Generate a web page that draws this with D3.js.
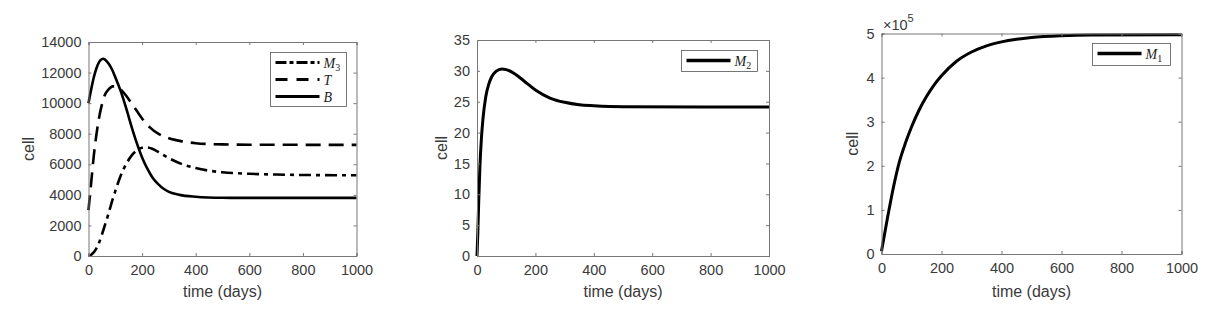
<!DOCTYPE html>
<html>
<head>
<meta charset="utf-8">
<script src="https://cdn.jsdelivr.net/npm/d3@7"></script>
<style>
  body { margin: 0; background: #fff; }
  svg { display: block; }
  .tick text { font-family: "Liberation Sans", Arial, sans-serif; font-size: 14.5px; fill: #3a3a3a; }
  .axlabel { font-family: "Liberation Sans", Arial, sans-serif; font-size: 16px; fill: #3a3a3a; }
  .legtext { font-family: "Liberation Serif", "DejaVu Serif", serif; font-style: italic; font-size: 14px; fill: #222; }
</style>
</head>
<body>
<div id="chart"></div>
<script>
// values
var tB = [0, 10, 20, 30, 40, 55, 70, 85, 100, 120, 140, 160, 180, 200, 220, 240, 260, 280, 300, 340, 400, 500, 600, 1000];
var valB = [10000, 10900, 11700, 12300, 12700, 12900, 12700, 12300, 11700, 10800, 9700, 8500, 7400, 6450, 5700, 5100, 4700, 4400, 4200, 4000, 3880, 3810, 3800, 3800];

var tT = [0, 10, 20, 30, 40, 50, 60, 75, 90, 105, 120, 140, 160, 180, 200, 230, 260, 300, 350, 400, 500, 600, 1000];
var valT = [3000, 4800, 6600, 8000, 9100, 9900, 10500, 10900, 11100, 11100, 10900, 10500, 10000, 9500, 9000, 8400, 8000, 7700, 7500, 7380, 7300, 7280, 7270];

var tM3 = [0, 10, 20, 30, 40, 50, 60, 70, 80, 90, 100, 120, 140, 160, 180, 200, 220, 240, 270, 300, 350, 400, 450, 500, 600, 700, 800, 1000];
var valM3 = [0, 80, 250, 520, 900, 1400, 1950, 2500, 3100, 3700, 4250, 5250, 6000, 6550, 6900, 7080, 7100, 7000, 6700, 6400, 6000, 5750, 5580, 5480, 5380, 5330, 5300, 5280];

var tM2 = [0, 3, 6, 10, 15, 20, 30, 40, 50, 65, 85, 100, 130, 160, 200, 250, 300, 350, 400, 500, 1000];
var valM2 = [0, 4, 9, 14.5, 19, 22, 25.8, 27.8, 29, 29.9, 30.3, 30.2, 29.5, 28.4, 26.9, 25.6, 24.9, 24.5, 24.35, 24.2, 24.15];

var tM1 = [0, 20, 40, 60, 80, 100, 125, 150, 175, 200, 250, 300, 350, 400, 450, 500, 600, 700, 1000];
var valM1 = [6000, 82000, 152000, 210000, 252000, 288000, 326000, 357000, 383000, 404000, 437000, 458000, 472000, 481000, 487000, 491000, 495000, 496500, 497000];

var xTicks = [0, 200, 400, 600, 800, 1000];
var yTicks1 = [0, 2000, 4000, 6000, 8000, 10000, 12000, 14000];
var yTicks2 = [0, 5, 10, 15, 20, 25, 30, 35];
var yTicks3 = [0, 100000, 200000, 300000, 400000, 500000];

var svg = d3.select('#chart').append('svg').attr('width', 1214).attr('height', 314);
svg.append('rect').attr('width', 1214).attr('height', 314).attr('fill', '#fff');

var axisColor = '#777';

function drawPanel(p) {
  var x = d3.scaleLinear().domain([0, 1000]).range([p.left, p.right]);
  var y = d3.scaleLinear().domain([0, p.ymax]).range([p.bottom, p.top]);
  var g = svg.append('g');

  var clipId = 'clip' + p.id;
  g.append('clipPath').attr('id', clipId).append('rect')
    .attr('x', p.left - 2).attr('y', p.top - 2)
    .attr('width', p.right - p.left + 4).attr('height', p.bottom - p.top + 4);

  // series
  var line = d3.line().curve(d3.curveMonotoneX)
    .x(function (d) { return x(d[0]); })
    .y(function (d) { return y(d[1]); });
  p.series.forEach(function (s) {
    var pts = s.t.map(function (t, i) { return [t, s.v[i]]; });
    g.append('path').datum(pts).attr('d', line)
      .attr('clip-path', 'url(#' + clipId + ')')
      .attr('fill', 'none').attr('stroke', '#000')
      .attr('stroke-width', s.w).attr('stroke-dasharray', s.dash || null);
  });

  // axes, ticks pointing inward like matlab
  var bottomAxis = d3.axisBottom(x).tickValues(xTicks).tickSize(-3).tickPadding(9).tickFormat(d3.format('d'));
  var topAxis = d3.axisTop(x).tickValues(xTicks).tickSize(-3).tickFormat('');
  var leftAxis = d3.axisLeft(y).tickValues(p.yTicks).tickSize(-3).tickPadding(7)
    .tickFormat(function (d) { return p.scale ? d / p.scale : d; });
  var rightAxis = d3.axisRight(y).tickValues(p.yTicks).tickSize(-3).tickFormat('');

  [[bottomAxis, 0, p.bottom], [topAxis, 0, p.top], [leftAxis, p.left, 0], [rightAxis, p.right, 0]].forEach(function (a) {
    var ag = g.append('g').attr('transform', 'translate(' + a[1] + ',' + a[2] + ')').call(a[0]);
    ag.select('.domain').attr('stroke', axisColor);
    ag.selectAll('.tick line').attr('stroke', axisColor);
  });

  // axis labels
  g.append('text').attr('class', 'axlabel')
    .attr('x', (p.left + p.right) / 2).attr('y', 297)
    .attr('text-anchor', 'middle').text('time (days)');
  g.append('text').attr('class', 'axlabel')
    .attr('transform', 'translate(' + (p.labelX) + ',' + ((p.top + p.bottom) / 2) + ') rotate(-90)')
    .attr('text-anchor', 'middle').text('cell');

  if (p.scale) {
    var ex = g.append('text').attr('class', 'axlabel').attr('x', p.left + 1.5).attr('y', p.top - 4)
      .style('font-size', '14.5px');
    ex.append('tspan').text('\u00d710');
    ex.append('tspan').attr('dy', -8).style('font-size', '11px').text('5');
  }

  // legend
  var L = p.legend;
  var lg = g.append('g');
  lg.append('rect').attr('x', L.x).attr('y', L.y).attr('width', L.w).attr('height', L.h)
    .attr('fill', '#fff').attr('stroke', '#555').attr('stroke-width', 0.8);
  L.items.forEach(function (it, i) {
    var yy = L.y + 10 + i * 17;
    lg.append('line').attr('x1', L.x + 5).attr('x2', L.x + 49)
      .attr('y1', yy).attr('y2', yy)
      .attr('stroke', '#000').attr('stroke-width', it.w)
      .attr('stroke-dasharray', it.dash || null);
    var tx = lg.append('text').attr('class', 'legtext').attr('x', L.x + 53).attr('y', yy + 5);
    tx.append('tspan').text(it.name);
    if (it.sub) {
      tx.append('tspan').attr('dy', 3).style('font-style', 'normal').style('font-size', '10px').text(it.sub);
    }
  });
}

var dashT = '15,8';
var dashM3 = '12,5,4,5';

drawPanel({
  id: 1, left: 88.5, right: 356.5, top: 42, bottom: 256, ymax: 14000, yTicks: yTicks1, labelX: 34,
  series: [
    { t: tM3, v: valM3, w: 2.6, dash: dashM3 },
    { t: tT, v: valT, w: 2.6, dash: dashT },
    { t: tB, v: valB, w: 2.6 }
  ],
  legend: {
    x: 270.5, y: 52.5, w: 76, h: 54,
    items: [
      { name: 'M', sub: '3', w: 3, dash: '11,3,4,3' },
      { name: 'T', w: 3, dash: '12,9' },
      { name: 'B', w: 3 }
    ]
  }
});

drawPanel({
  id: 2, left: 477, right: 769, top: 40, bottom: 256, ymax: 35, yTicks: yTicks2, labelX: 447,
  series: [{ t: tM2, v: valM2, w: 3 }],
  legend: { x: 681.5, y: 50.5, w: 76, h: 21, items: [{ name: 'M', sub: '2', w: 3.5 }] }
});

drawPanel({
  id: 3, left: 881.5, right: 1181.5, top: 33.5, bottom: 254, ymax: 500000, yTicks: yTicks3, labelX: 858,
  scale: 100000,
  series: [{ t: tM1, v: valM1, w: 3 }],
  legend: { x: 1092.5, y: 43.5, w: 78, h: 22, items: [{ name: 'M', sub: '1', w: 3.5 }] }
});
</script>
</body>
</html>
